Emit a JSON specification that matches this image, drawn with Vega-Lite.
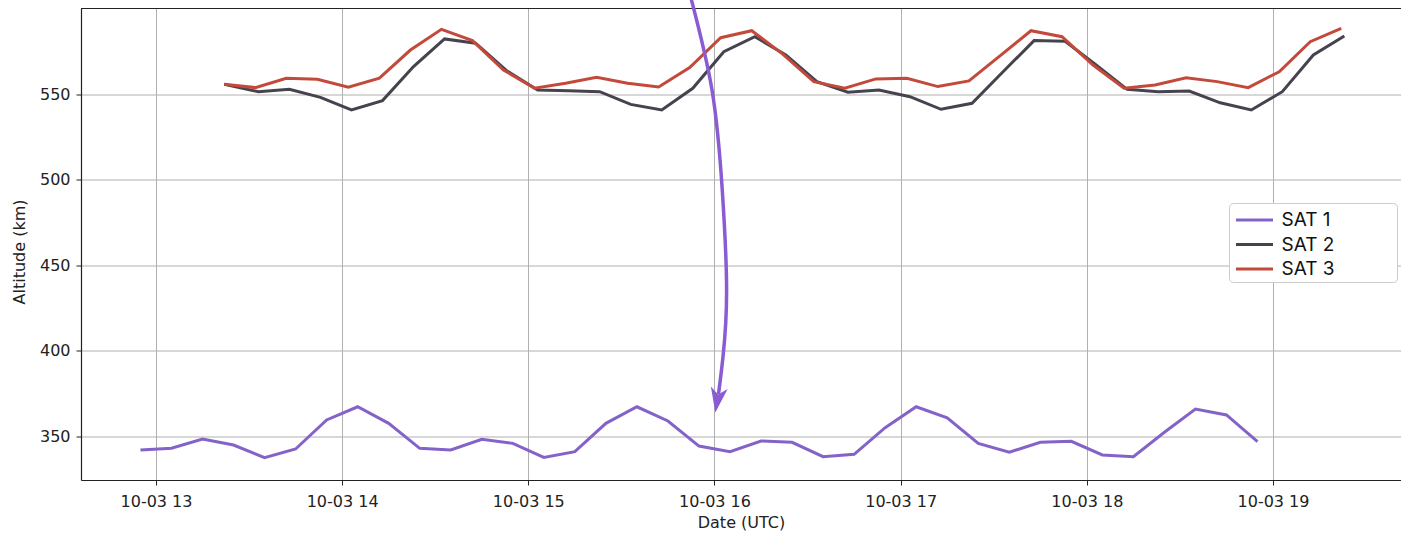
{
  "$schema": "https://vega.github.io/schema/vega-lite/v6.json",
  "width": 1320,
  "height": 471.5,
  "autosize": {"type": "none"},
  "padding": {"left": 81, "top": 8.5, "right": 0, "bottom": 53},
  "background": "white",
  "view": {"stroke": "transparent", "strokeWidth": 0},
  "config": {
    "view": {"stroke": "transparent", "strokeWidth": 0},
    "axis": {
      "labelFont": "DejaVu Sans", "labelFontSize": 16, "labelColor": "#222222",
      "titleFont": "DejaVu Sans", "titleFontSize": 16, "titleFontWeight": "normal", "titleColor": "#222222",
      "tickColor": "#222222", "tickSize": 5, "domainColor": "#222222", "domainWidth": 1.2,
      "gridColor": "#b0b0b0", "gridWidth": 1
    }
  },
  "datasets": {
    "sat": [
      {"sat":"SAT 1","t":"2024-10-03T12:55:00","alt":341.8},
      {"sat":"SAT 1","t":"2024-10-03T13:05:00","alt":342.8},
      {"sat":"SAT 1","t":"2024-10-03T13:15:00","alt":348.2},
      {"sat":"SAT 1","t":"2024-10-03T13:25:00","alt":344.7},
      {"sat":"SAT 1","t":"2024-10-03T13:35:00","alt":337.3},
      {"sat":"SAT 1","t":"2024-10-03T13:45:00","alt":342.4},
      {"sat":"SAT 1","t":"2024-10-03T13:55:00","alt":359.4},
      {"sat":"SAT 1","t":"2024-10-03T14:05:00","alt":367.1},
      {"sat":"SAT 1","t":"2024-10-03T14:15:00","alt":357.4},
      {"sat":"SAT 1","t":"2024-10-03T14:25:00","alt":342.8},
      {"sat":"SAT 1","t":"2024-10-03T14:35:00","alt":341.8},
      {"sat":"SAT 1","t":"2024-10-03T14:45:00","alt":348.1},
      {"sat":"SAT 1","t":"2024-10-03T14:55:00","alt":345.7},
      {"sat":"SAT 1","t":"2024-10-03T15:05:00","alt":337.5},
      {"sat":"SAT 1","t":"2024-10-03T15:15:00","alt":340.8},
      {"sat":"SAT 1","t":"2024-10-03T15:25:00","alt":357.4},
      {"sat":"SAT 1","t":"2024-10-03T15:35:00","alt":367.1},
      {"sat":"SAT 1","t":"2024-10-03T15:45:00","alt":358.8},
      {"sat":"SAT 1","t":"2024-10-03T15:55:00","alt":344.1},
      {"sat":"SAT 1","t":"2024-10-03T16:05:00","alt":340.8},
      {"sat":"SAT 1","t":"2024-10-03T16:15:00","alt":347.1},
      {"sat":"SAT 1","t":"2024-10-03T16:25:00","alt":346.3},
      {"sat":"SAT 1","t":"2024-10-03T16:35:00","alt":337.9},
      {"sat":"SAT 1","t":"2024-10-03T16:45:00","alt":339.3},
      {"sat":"SAT 1","t":"2024-10-03T16:55:00","alt":354.9},
      {"sat":"SAT 1","t":"2024-10-03T17:05:00","alt":367.1},
      {"sat":"SAT 1","t":"2024-10-03T17:15:00","alt":360.7},
      {"sat":"SAT 1","t":"2024-10-03T17:25:00","alt":345.7},
      {"sat":"SAT 1","t":"2024-10-03T17:35:00","alt":340.5},
      {"sat":"SAT 1","t":"2024-10-03T17:45:00","alt":346.3},
      {"sat":"SAT 1","t":"2024-10-03T17:55:00","alt":346.9},
      {"sat":"SAT 1","t":"2024-10-03T18:05:00","alt":338.9},
      {"sat":"SAT 1","t":"2024-10-03T18:15:00","alt":337.9},
      {"sat":"SAT 1","t":"2024-10-03T18:25:00","alt":352.2},
      {"sat":"SAT 1","t":"2024-10-03T18:35:00","alt":365.8},
      {"sat":"SAT 1","t":"2024-10-03T18:45:00","alt":362.3},
      {"sat":"SAT 1","t":"2024-10-03T18:55:00","alt":346.7},
      {"sat":"SAT 2","t":"2024-10-03T13:22:00","alt":555.9},
      {"sat":"SAT 2","t":"2024-10-03T13:33:00","alt":551.5},
      {"sat":"SAT 2","t":"2024-10-03T13:43:00","alt":552.9},
      {"sat":"SAT 2","t":"2024-10-03T13:53:00","alt":548.2},
      {"sat":"SAT 2","t":"2024-10-03T14:03:00","alt":540.8},
      {"sat":"SAT 2","t":"2024-10-03T14:13:00","alt":546.3},
      {"sat":"SAT 2","t":"2024-10-03T14:23:00","alt":566.2},
      {"sat":"SAT 2","t":"2024-10-03T14:33:00","alt":582.4},
      {"sat":"SAT 2","t":"2024-10-03T14:43:00","alt":579.9},
      {"sat":"SAT 2","t":"2024-10-03T14:53:00","alt":563.8},
      {"sat":"SAT 2","t":"2024-10-03T15:03:00","alt":552.5},
      {"sat":"SAT 2","t":"2024-10-03T15:13:00","alt":552.1},
      {"sat":"SAT 2","t":"2024-10-03T15:23:00","alt":551.5},
      {"sat":"SAT 2","t":"2024-10-03T15:33:00","alt":544.1},
      {"sat":"SAT 2","t":"2024-10-03T15:43:00","alt":540.8},
      {"sat":"SAT 2","t":"2024-10-03T15:53:00","alt":553.5},
      {"sat":"SAT 2","t":"2024-10-03T16:03:00","alt":574.9},
      {"sat":"SAT 2","t":"2024-10-03T16:13:00","alt":583.7},
      {"sat":"SAT 2","t":"2024-10-03T16:23:00","alt":573.0},
      {"sat":"SAT 2","t":"2024-10-03T16:33:00","alt":557.4},
      {"sat":"SAT 2","t":"2024-10-03T16:43:00","alt":551.2},
      {"sat":"SAT 2","t":"2024-10-03T16:53:00","alt":552.5},
      {"sat":"SAT 2","t":"2024-10-03T17:03:00","alt":548.6},
      {"sat":"SAT 2","t":"2024-10-03T17:13:00","alt":541.2},
      {"sat":"SAT 2","t":"2024-10-03T17:23:00","alt":544.7},
      {"sat":"SAT 2","t":"2024-10-03T17:33:00","alt":563.2},
      {"sat":"SAT 2","t":"2024-10-03T17:43:00","alt":581.4},
      {"sat":"SAT 2","t":"2024-10-03T17:53:00","alt":581.0},
      {"sat":"SAT 2","t":"2024-10-03T18:03:00","alt":567.1},
      {"sat":"SAT 2","t":"2024-10-03T18:13:00","alt":552.9},
      {"sat":"SAT 2","t":"2024-10-03T18:23:00","alt":551.5},
      {"sat":"SAT 2","t":"2024-10-03T18:33:00","alt":551.9},
      {"sat":"SAT 2","t":"2024-10-03T18:43:00","alt":545.0},
      {"sat":"SAT 2","t":"2024-10-03T18:53:00","alt":540.8},
      {"sat":"SAT 2","t":"2024-10-03T19:03:00","alt":551.5},
      {"sat":"SAT 2","t":"2024-10-03T19:13:00","alt":573.0},
      {"sat":"SAT 2","t":"2024-10-03T19:23:00","alt":584.1},
      {"sat":"SAT 3","t":"2024-10-03T13:22:00","alt":555.9},
      {"sat":"SAT 3","t":"2024-10-03T13:32:00","alt":553.9},
      {"sat":"SAT 3","t":"2024-10-03T13:42:00","alt":559.4},
      {"sat":"SAT 3","t":"2024-10-03T13:52:00","alt":558.8},
      {"sat":"SAT 3","t":"2024-10-03T14:02:00","alt":554.1},
      {"sat":"SAT 3","t":"2024-10-03T14:12:00","alt":559.4},
      {"sat":"SAT 3","t":"2024-10-03T14:22:00","alt":575.9},
      {"sat":"SAT 3","t":"2024-10-03T14:32:00","alt":588.0},
      {"sat":"SAT 3","t":"2024-10-03T14:42:00","alt":581.4},
      {"sat":"SAT 3","t":"2024-10-03T14:52:00","alt":564.2},
      {"sat":"SAT 3","t":"2024-10-03T15:02:00","alt":553.5},
      {"sat":"SAT 3","t":"2024-10-03T15:12:00","alt":556.5},
      {"sat":"SAT 3","t":"2024-10-03T15:22:00","alt":560.0},
      {"sat":"SAT 3","t":"2024-10-03T15:32:00","alt":556.4},
      {"sat":"SAT 3","t":"2024-10-03T15:42:00","alt":554.3},
      {"sat":"SAT 3","t":"2024-10-03T15:52:00","alt":565.6},
      {"sat":"SAT 3","t":"2024-10-03T16:02:00","alt":583.1},
      {"sat":"SAT 3","t":"2024-10-03T16:12:00","alt":587.2},
      {"sat":"SAT 3","t":"2024-10-03T16:22:00","alt":573.5},
      {"sat":"SAT 3","t":"2024-10-03T16:32:00","alt":557.4},
      {"sat":"SAT 3","t":"2024-10-03T16:42:00","alt":553.5},
      {"sat":"SAT 3","t":"2024-10-03T16:52:00","alt":559.0},
      {"sat":"SAT 3","t":"2024-10-03T17:02:00","alt":559.4},
      {"sat":"SAT 3","t":"2024-10-03T17:12:00","alt":554.5},
      {"sat":"SAT 3","t":"2024-10-03T17:22:00","alt":557.8},
      {"sat":"SAT 3","t":"2024-10-03T17:32:00","alt":572.5},
      {"sat":"SAT 3","t":"2024-10-03T17:42:00","alt":587.2},
      {"sat":"SAT 3","t":"2024-10-03T17:52:00","alt":583.7},
      {"sat":"SAT 3","t":"2024-10-03T18:02:00","alt":567.1},
      {"sat":"SAT 3","t":"2024-10-03T18:12:00","alt":553.5},
      {"sat":"SAT 3","t":"2024-10-03T18:22:00","alt":555.4},
      {"sat":"SAT 3","t":"2024-10-03T18:32:00","alt":559.7},
      {"sat":"SAT 3","t":"2024-10-03T18:42:00","alt":557.4},
      {"sat":"SAT 3","t":"2024-10-03T18:52:00","alt":553.9},
      {"sat":"SAT 3","t":"2024-10-03T19:02:00","alt":563.2},
      {"sat":"SAT 3","t":"2024-10-03T19:12:00","alt":580.8},
      {"sat":"SAT 3","t":"2024-10-03T19:22:00","alt":588.6}
    ],
    "arrow": [
      {"i":0,"t":"2024-10-03T15:52:24","alt":606.4},
      {"i":1,"t":"2024-10-03T15:59:12","alt":552.5},
      {"i":2,"t":"2024-10-03T16:02:30","alt":494.0},
      {"i":3,"t":"2024-10-03T16:03:54","alt":435.5},
      {"i":4,"t":"2024-10-03T16:02:48","alt":397.4},
      {"i":5,"t":"2024-10-03T16:01:18","alt":374.6}
    ],
    "head": [
      {"t":"2024-10-03T16:00:54","alt":371.0}
    ],
    "frame": [
      {"top": 600.2}
    ]
  },
  "encoding": {
    "x": {
      "field": "t", "type": "temporal",
      "scale": {"domain": [
        {"year":2024,"month":10,"date":3,"hours":12,"minutes":35,"seconds":50},
        {"year":2024,"month":10,"date":3,"hours":19,"minutes":41,"seconds":15}
      ]},
      "axis": {
        "title": "Date (UTC)", "format": "%m-%d %H", "labelPadding": 8, "titlePadding": 5,
        "values": [
          {"year":2024,"month":10,"date":3,"hours":13},
          {"year":2024,"month":10,"date":3,"hours":14},
          {"year":2024,"month":10,"date":3,"hours":15},
          {"year":2024,"month":10,"date":3,"hours":16},
          {"year":2024,"month":10,"date":3,"hours":17},
          {"year":2024,"month":10,"date":3,"hours":18},
          {"year":2024,"month":10,"date":3,"hours":19}
        ]
      }
    },
    "y": {
      "field": "alt", "type": "quantitative",
      "scale": {"domain": [324.25, 600.2], "nice": false, "zero": false},
      "axis": {"title": "Altitude (km)", "values": [350, 400, 450, 500, 550], "labelPadding": 6, "titlePadding": 12, "titleY": 243}
    }
  },
  "layer": [
    {
      "data": {"name": "sat"},
      "mark": {"type": "line", "strokeWidth": 3},
      "encoding": {
        "color": {
          "field": "sat", "type": "nominal",
          "scale": {"domain": ["SAT 1", "SAT 2", "SAT 3"], "range": ["#8463c9", "#46434f", "#c34a3a"]},
          "legend": {
            "title": null, "orient": "none", "legendX": 1148, "legendY": 194.5,
            "symbolType": "M-1.48,0L1.48,0", "symbolStrokeWidth": 3, "symbolSize": 625, "symbolOffset": 8.5,
            "labelFont": "Inter", "labelFontSize": 19, "labelColor": "#111111", "labelOffset": 13,
            "labelExpr": "datum.label + '\u00a0\u00a0\u00a0\u00a0\u00a0\u00a0\u00a0\u00a0\u00a0\u00a0\u00a0\u200b'",
            "strokeColor": "#cccccc", "fillColor": "white", "cornerRadius": 4, "padding": 3, "rowPadding": 0.5
          }
        }
      }
    },
    {
      "data": {"name": "frame"},
      "mark": {"type": "rule", "color": "#222222", "strokeWidth": 1.2, "clip": false},
      "encoding": {
        "x": null,
        "y": {"field": "top", "type": "quantitative"}
      }
    },
    {
      "data": {"name": "arrow"},
      "mark": {"type": "line", "strokeWidth": 3.5, "color": "#8a5bd3", "interpolate": "natural", "clip": false},
      "encoding": {
        "order": {"field": "i", "type": "quantitative"}
      }
    },
    {
      "data": {"name": "head"},
      "mark": {"type": "point", "filled": true, "opacity": 1, "color": "#8a5bd3", "size": 625, "angle": 9,
               "shape": "M0,1 L-0.68,-1 L0,-0.45 L0.68,-1 Z", "strokeWidth": 0},
      "encoding": {}
    }
  ]
}
